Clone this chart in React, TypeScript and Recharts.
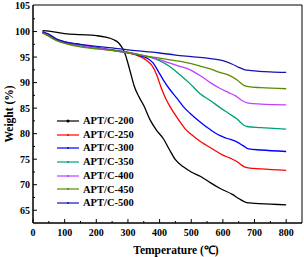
import { LineChart, Line, XAxis, YAxis, ReferenceArea } from 'recharts';

// temperature (°C) and weight (%)
const temp200 = [30, 50, 100, 150, 200, 230, 255, 270, 280, 290, 300, 310, 320, 335, 350, 370, 390, 412, 430, 450, 475, 500, 530, 560, 590, 630, 650, 675, 700, 750, 800];
const weight200 = [100.2, 100.1, 99.6, 99.4, 99.2, 98.9, 98.4, 97.8, 97.0, 95.8, 93.8, 91.5, 89.3, 87.2, 85.5, 82.7, 80.7, 79.0, 77.0, 74.9, 73.5, 72.5, 71.6, 70.4, 69.3, 68.1, 67.3, 66.5, 66.35, 66.2, 66.05];

const temp250 = [30, 40, 60, 80, 100, 150, 200, 250, 300, 338, 360, 375, 391, 405, 420, 444, 460, 480, 507, 528, 570, 600, 623, 645, 665, 680, 720, 800];
const weight250 = [99.8, 99.5, 98.8, 98.2, 97.9, 97.3, 96.8, 96.3, 95.8, 95.1, 94.3, 93.4, 91.5, 89.0, 86.8, 84.2, 82.7, 81.0, 79.5, 78.5, 76.9, 75.8, 75.2, 74.5, 73.6, 73.3, 73.1, 72.8];

const temp300 = [30, 40, 60, 80, 100, 150, 200, 250, 300, 338, 360, 380, 395, 412, 433, 454, 475, 496, 528, 560, 591, 612, 644, 665, 681, 720, 800];
const weight300 = [99.9, 99.6, 98.9, 98.3, 98.0, 97.4, 96.9, 96.4, 95.9, 95.3, 94.8, 93.8, 92.3, 90.5, 88.6, 87.0, 85.3, 84.0, 82.3, 80.8, 79.6, 79.1, 78.4, 77.6, 77.0, 76.8, 76.5];

const temp350 = [30, 40, 60, 80, 100, 150, 200, 250, 300, 340, 370, 400, 433, 465, 496, 528, 560, 591, 620, 644, 665, 676, 720, 800];
const weight350 = [99.8, 99.5, 98.7, 98.1, 97.8, 97.2, 96.7, 96.3, 95.8, 95.4, 95.0, 94.3, 93.1, 91.5, 89.8, 87.8, 86.5, 85.1, 83.9, 82.9, 81.7, 81.4, 81.2, 80.9];

const temp400 = [30, 40, 60, 80, 100, 150, 200, 250, 300, 350, 400, 433, 470, 500, 530, 560, 590, 620, 640, 660, 680, 720, 800];
const weight400 = [99.8, 99.5, 98.8, 98.2, 97.9, 97.3, 96.8, 96.3, 95.9, 95.3, 94.5, 93.8, 93.1, 92.4, 91.3, 90.0, 88.9, 88.0, 87.4, 86.5, 86.0, 85.8, 85.65];

const temp450 = [30, 50, 75, 100, 150, 200, 250, 300, 350, 400, 433, 470, 500, 530, 560, 590, 620, 645, 665, 680, 720, 800];
const weight450 = [99.7, 99.1, 98.2, 97.7, 97.0, 96.6, 96.3, 95.9, 95.3, 94.8, 94.45, 94.1, 93.7, 93.2, 92.7, 92.0, 91.4, 90.5, 89.5, 89.2, 89.0, 88.8];

const temp500 = [30, 50, 75, 100, 150, 200, 250, 300, 350, 400, 450, 500, 550, 600, 630, 650, 670, 690, 750, 800];
const weight500 = [100.0, 99.5, 98.5, 98.0, 97.5, 97.1, 96.8, 96.4, 96.1, 95.8, 95.4, 95.1, 94.8, 94.3, 93.6, 93.0, 92.5, 92.35, 92.1, 92.0];

const seriesNames = ['APT/C-200', 'APT/C-250', 'APT/C-300', 'APT/C-350', 'APT/C-400', 'APT/C-450', 'APT/C-500'];
const seriesTemps = [temp200, temp250, temp300, temp350, temp400, temp450, temp500];
const seriesWeights = [weight200, weight250, weight300, weight350, weight400, weight450, weight500];
const COLORS = ['#000000', '#ff0000', '#0000ff', '#00a07a', '#c040ff', '#5b8c00', '#1414b4'];

const xTicks = [0, 50, 100, 150, 200, 250, 300, 350, 400, 450, 500, 550, 600, 650, 700, 750, 800];
const yTicks = [65, 67.5, 70, 72.5, 75, 77.5, 80, 82.5, 85, 87.5, 90, 92.5, 95, 97.5, 100, 102.5];
const Y_TOP_TICK = 105;
const X_DOMAIN = [0, 850];
const Y_DOMAIN = [62.5, 105.2];

const FONT = '"Liberation Serif", "Times New Roman", serif';

const XTick = (props: any) => {
  const { x, y, payload } = props;
  const v = payload.value;
  const major = v % 100 === 0;
  return (
    <g>
      <line x1={x} y1={y} x2={x} y2={y - (major ? 4 : 2)} stroke="#000" strokeWidth={1} />
      {major && (
        <text x={x} y={y + 13} textAnchor="middle" fontFamily={FONT} fontWeight="bold" fontSize={10} fill="#000">
          {v}
        </text>
      )}
    </g>
  );
};

const YTick = (props: any) => {
  const { x, y, payload } = props;
  const v = payload.value;
  const major = v % 5 === 0;
  return (
    <g>
      <line x1={x} y1={y} x2={x + (major ? 4 : 2)} y2={y} stroke="#000" strokeWidth={1} />
      {major && (
        <text x={x - 3} y={y + 3.5} textAnchor="end" fontFamily={FONT} fontWeight="bold" fontSize={10} fill="#000">
          {v}
        </text>
      )}
    </g>
  );
};

const LegendBox = () => (
  <div style={{ fontFamily: FONT, fontWeight: 'bold', fontSize: 10.5, lineHeight: '13.7px' }}>
    {seriesNames.map((name, i) => (
      <div key={name} style={{ display: 'flex', alignItems: 'center', whiteSpace: 'nowrap' }}>
        <svg width={24} height={8} style={{ marginRight: 2 }}>
          <line x1={0} y1={4} x2={22} y2={4} stroke={COLORS[i]} strokeWidth={1.2} />
          <circle cx={11} cy={4} r={i === 0 ? 1.6 : 1} fill={COLORS[i]} />
        </svg>
        <span>{name}</span>
      </div>
    ))}
  </div>
);

export default function App() {
  return (
    <div style={{ position: 'absolute', left: 0, top: 0, width: 304, height: 257, background: '#fff' }}>
      <LineChart width={304} height={257} margin={{ top: 5, right: 2, bottom: 14, left: 0 }}>
        <XAxis
          type="number"
          dataKey="t"
          domain={X_DOMAIN}
          ticks={xTicks}
          interval={0}
          allowDataOverflow
          tickSize={0}
          tickMargin={0}
          height={20}
          stroke="#000"
          tick={<XTick />}
        />
        <YAxis
          type="number"
          domain={Y_DOMAIN}
          ticks={yTicks}
          interval={0}
          allowDataOverflow
          tickSize={0}
          tickMargin={0}
          width={33}
          stroke="#000"
          tick={<YTick />}
        />
        <ReferenceArea x1={X_DOMAIN[0]} x2={X_DOMAIN[1]} y1={Y_DOMAIN[0]} y2={Y_DOMAIN[1]} fill="none" stroke="#000" strokeWidth={1} />
        {seriesNames.map((name, i) => (
          <Line
            key={name}
            name={name}
            data={seriesTemps[i].map((t, j) => ({ t, w: seriesWeights[i][j] }))}
            dataKey="w"
            type="monotone"
            stroke={COLORS[i]}
            strokeWidth={1.3}
            dot={false}
            isAnimationActive={false}
          />
        ))}
      </LineChart>
      <div style={{ position: 'absolute', left: 57, top: 114 }}>
        <LegendBox />
      </div>
      <div
        style={{
          position: 'absolute',
          left: 0,
          top: 242,
          width: 304,
          paddingLeft: 48,
          boxSizing: 'border-box',
          textAlign: 'center',
          fontFamily: FONT,
          fontWeight: 'bold',
          fontSize: 11.5,
        }}
      >
        Temperature (℃)
      </div>
      <div
        style={{
          position: 'absolute',
          left: 9,
          top: 114,
          transform: 'translate(-50%, -50%) rotate(-90deg)',
          fontFamily: FONT,
          fontWeight: 'bold',
          fontSize: 11.5,
          whiteSpace: 'nowrap',
        }}
      >
        Weight (%)
      </div>
      {/* top y tick label, drawn as an overlay since the axis drops it */}
      <div
        style={{
          position: 'absolute',
          left: 0,
          top: 0,
          width: 30,
          textAlign: 'right',
          fontFamily: FONT,
          fontWeight: 'bold',
          fontSize: 10,
          lineHeight: '11px',
          zIndex: 10,
        }}
      >
        {Y_TOP_TICK}
      </div>
    </div>
  );
}
